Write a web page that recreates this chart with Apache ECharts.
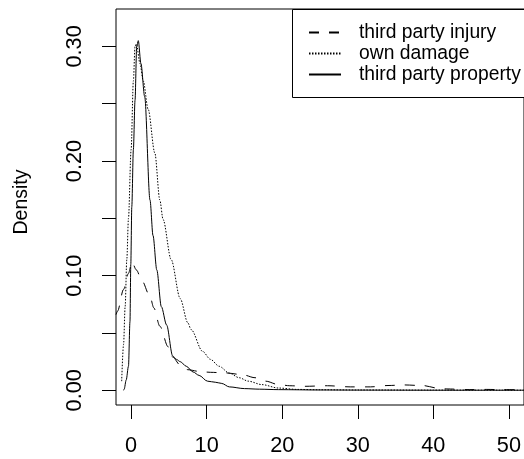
<!DOCTYPE html>
<html>
<head>
<meta charset="utf-8">
<script src="https://cdn.jsdelivr.net/npm/echarts@6/dist/echarts.min.js"></script>
<style>
html,body{margin:0;padding:0;background:#fff;}
#chart{width:524px;height:459px;}
</style>
</head>
<body>
<div id="chart"></div>
<script>
// ---- data ----
const seriesNames = ['third party injury', 'own damage', 'third party property'];

const injuryX = [-2.0, -1.8, -1.0, -0.35, 0.1, 0.7, 1.4, 2.5, 3.0, 3.8, 4.9, 5.5, 6.5, 7.5, 9.0, 10.5, 12.5, 14.7, 16.4, 17.8, 19.5, 21, 23, 26, 29, 31.7, 34, 36.1, 38.7, 40.5, 41.8, 44.8, 47, 49.2, 52];
const injuryY = [0.066, 0.069, 0.088, 0.102, 0.112, 0.105, 0.096, 0.082, 0.072, 0.056, 0.038, 0.029, 0.022, 0.018, 0.0165, 0.0157, 0.0152, 0.0137, 0.011, 0.008, 0.005, 0.004, 0.0035, 0.004, 0.003, 0.003, 0.0042, 0.0047, 0.0041, 0.002, 0.0012, 0.0006, 0.0008, 0.0006, 0.0005];

const ownX = [-1.25, -1.0, -0.79, -0.57, -0.35, 0.0, 0.3, 0.52, 0.7, 1.18, 1.6, 2.26, 3.14, 3.8, 4.23, 5.3, 6.5, 7.5, 7.94, 9.46, 10.5, 11.65, 13, 14.3, 15.5, 17.3, 19.5, 22, 25, 30, 40, 52];
const ownY = [0.008, 0.04, 0.073, 0.114, 0.15, 0.21, 0.27, 0.30, 0.302, 0.285, 0.27, 0.245, 0.207, 0.166, 0.149, 0.114, 0.08, 0.059, 0.053, 0.034, 0.027, 0.021, 0.015, 0.011, 0.008, 0.005, 0.002, 0.0008, 0.0005, 0.0003, 0.0002, 0.0001];

const propertyX = [-1.0, -0.92, -0.65, -0.35, -0.15, -0.04, 0.09, 0.3, 0.52, 0.74, 0.95, 1.3, 1.8, 2.5, 2.9, 3.4, 4.0, 4.7, 5.5, 6.0, 6.5, 7.3, 8.2, 9.0, 10.1, 11.2, 12.0, 13.0, 15.0, 17.0, 19.5, 25, 30, 40, 52];
const propertyY = [0.0, 0.001, 0.009, 0.021, 0.06, 0.11, 0.16, 0.21, 0.253, 0.30, 0.305, 0.285, 0.256, 0.166, 0.135, 0.105, 0.073, 0.057, 0.03, 0.027, 0.025, 0.021, 0.016, 0.013, 0.008, 0.007, 0.006, 0.003, 0.0015, 0.001, 0.0006, 0.0003, 0.0002, 0.0001, 0.0001];

// ---- axes / ticks ----
const xTickValues = [0, 10, 20, 30, 40, 50];
const xTickLabels = ['0', '10', '20', '30', '40', '50'];
const yTickValues = [0, 0.05, 0.10, 0.15, 0.20, 0.25, 0.30];
const yLabelValues = [0, 0.10, 0.20, 0.30];
const yTickLabels = ['0.00', '0.10', '0.20', '0.30'];
const yAxisTitle = 'Density';

const zip = (xs, ys) => xs.map((x, i) => [x, ys[i]]);
const FONT = 'Liberation Sans, Arial, Helvetica, sans-serif';

const chart = echarts.init(document.getElementById('chart'), null, {renderer: 'canvas'});
chart.setOption({
  animation: false,
  backgroundColor: '#ffffff',
  grid: {
    show: true, left: 116, top: 9, right: -4, bottom: 54,
    borderColor: '#000', borderWidth: 1, backgroundColor: 'transparent',
    containLabel: false
  },
  graphic: [{
    type: 'rect', z: 3, silent: true,
    shape: {x: 292.5, y: 9.5, width: 260, height: 88},
    style: {fill: '#fff', stroke: '#000', lineWidth: 1}
  }],
  legend: {
    show: true,
    orient: 'vertical',
    left: 292, top: 9,
    padding: [13, 4, 12, 16],
    itemWidth: 32, itemHeight: 14, itemGap: 0,
    borderWidth: 0,
    data: seriesNames,
    itemStyle: {opacity: 0},
    textStyle: {fontFamily: FONT, fontSize: 19.3, color: '#000', lineHeight: 21, padding: [0, 0, 0, 13]}
  },
  xAxis: {
    type: 'value', min: -2, max: 52,
    axisLine: {show: false, onZero: false},
    splitLine: {show: false},
    axisTick: {show: true, inside: false, length: 14, lineStyle: {color: '#000', width: 1}, customValues: xTickValues},
    axisLabel: {
      show: true, margin: 30, customValues: xTickValues,
      formatter: v => xTickLabels[xTickValues.indexOf(v)] ?? String(v),
      fontFamily: FONT, fontSize: 21.7, color: '#000'
    }
  },
  yAxis: {
    type: 'value', min: -0.0128, max: 0.3326,
    name: yAxisTitle, nameLocation: 'middle', nameRotate: 90, nameGap: 84,
    nameTextStyle: {fontFamily: FONT, fontSize: 19.5, color: '#000', padding: [0, 0, 0, 10]},
    axisLine: {show: false, onZero: false},
    splitLine: {show: false},
    axisTick: {show: true, inside: false, length: 14, lineStyle: {color: '#000', width: 1}, customValues: yTickValues},
    axisLabel: {
      show: true, margin: 30, rotate: 90, customValues: yLabelValues,
      formatter: v => {
        const i = yLabelValues.findIndex(t => Math.abs(t - v) < 1e-9);
        return i >= 0 ? yTickLabels[i] : v.toFixed(2);
      },
      fontFamily: FONT, fontSize: 21.7, color: '#000'
    }
  },
  series: [
    {
      name: seriesNames[0], type: 'line', data: zip(injuryX, injuryY),
      symbol: 'none', smooth: 0.3, smoothMonotone: 'x', clip: true,
      lineStyle: {color: '#000', width: 1, type: [10, 10]},
      itemStyle: {color: '#000'}
    },
    {
      name: seriesNames[1], type: 'line', data: zip(ownX, ownY),
      symbol: 'none', smooth: 0.3, smoothMonotone: 'x', clip: true,
      lineStyle: {color: '#000', width: 1, type: [1.5, 1.5]},
      itemStyle: {color: '#000'}
    },
    {
      name: seriesNames[2], type: 'line', data: zip(propertyX, propertyY),
      symbol: 'none', smooth: 0.3, smoothMonotone: 'x', clip: true,
      lineStyle: {color: '#000', width: 1, type: 'solid'},
      itemStyle: {color: '#000'}
    }
  ]
});
</script>
</body>
</html>
